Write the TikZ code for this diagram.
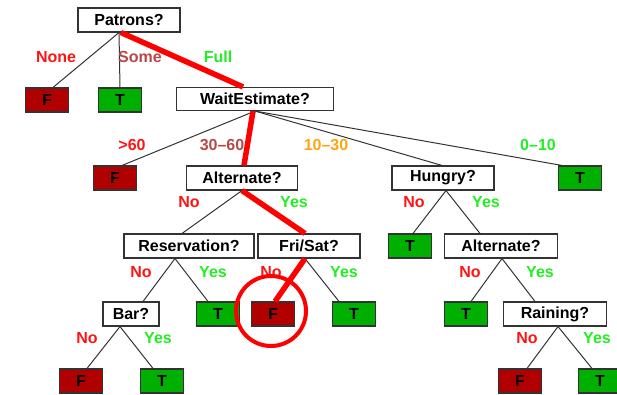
\documentclass[tikz,border=0pt]{standalone}
\usepackage{fontspec}
\setmainfont{Liberation Sans}
\usepackage{tikz}
\usetikzlibrary{positioning}
\definecolor{TreeNo}{HTML}{FF1414}
\definecolor{TreeYes}{HTML}{22EE22}
\definecolor{TreeSome}{HTML}{B84848}
\definecolor{TreeMid}{HTML}{FFA514}
\definecolor{TreeFalse}{HTML}{B00000}
\definecolor{TreeTrue}{HTML}{00B000}
\definecolor{TreeInk}{HTML}{333333}
\definecolor{TreePath}{HTML}{FF0000}

\begin{document}
\begin{tikzpicture}[x=1pt,y=-1pt,
  every node/.style={font=\fontsize{16}{18}\selectfont\bfseries},
  test/.style={draw=TreeInk,line width=1.1pt,fill=white,minimum height=24pt,inner sep=0pt},
  fleaf/.style={draw=TreeInk,line width=1.1pt,fill=TreeFalse,minimum width=43pt,minimum height=24pt,inner sep=0pt},
  tleaf/.style={draw=TreeInk,line width=1.1pt,fill=TreeTrue,minimum width=43pt,minimum height=24pt,inner sep=0pt},
  edge/.style={draw=TreeInk,line width=1pt},
  chosen/.style={draw=TreePath,line width=5.5pt},
  lno/.style={text=TreeNo},
  lyes/.style={text=TreeYes}]
  \useasboundingbox (0,0) rectangle (617,395);
  % tests and leaves
  \node[test,minimum width=102pt] (patrons) at (129,20) {Patrons?};
  \node[fleaf] (fnone) at (47,100) {F};
  \node[tleaf] (tsome) at (120,100) {T};
  \node[test,minimum width=157pt,minimum height=23pt] (wait) at (255,99) {WaitEstimate?};
  \node[fleaf] (f60) at (115,178) {F};
  \node[test,minimum width=111pt] (alt1) at (242,178) {Alternate?};
  \node[test,minimum width=102pt] (hungry) at (443,178) {Hungry?};
  \node[tleaf] (t010) at (580,178) {T};
  \node[test,minimum width=130pt] (resv) at (189,246) {Reservation?};
  \node[test,minimum width=102pt] (frisat) at (309,246) {Fri/Sat?};
  \node[tleaf] (thun) at (410,246) {T};
  \node[test,minimum width=113pt] (alt2) at (501,246) {Alternate?};
  \node[test,minimum width=56pt] (bar) at (131,314) {Bar?};
  \node[tleaf] (tres) at (218,314) {T};
  \node[fleaf] (ffri) at (273,314) {F};
  \node[tleaf] (tfri) at (354,314) {T};
  \node[tleaf] (talt) at (466,314) {T};
  \node[test,minimum width=103pt] (rain) at (555,314) {Raining?};
  \node[fleaf] (fbar) at (81,381) {F};
  \node[tleaf] (tbar) at (162,381) {T};
  \node[fleaf] (frain) at (520,381) {F};
  \node[tleaf] (train) at (600,381) {T};
  % branches
  \draw[edge] ([xshift=-10pt]patrons.south) -- ([xshift=6pt]fnone.north);
  \draw[edge] ([xshift=-10pt]patrons.south) -- (tsome.north);
  \draw[edge] ([xshift=-10pt]patrons.south) -- ([xshift=-12pt]wait.north);
  \draw[edge] (wait.south) -- ([xshift=7pt]f60.north);
  \draw[edge] (wait.south) -- ([xshift=2pt]alt1.north);
  \draw[edge] (wait.south) -- ([xshift=-1pt]hungry.north);
  \draw[edge] (wait.south) -- ([xshift=-18pt]t010.north);
  \draw[edge] (alt1.south) -- ([xshift=-7pt]resv.north);
  \draw[edge] (alt1.south) -- ([xshift=-4pt]frisat.north);
  \draw[edge] ([xshift=-14pt]resv.south) -- ([xshift=12pt]bar.north);
  \draw[edge] ([xshift=-14pt]resv.south) -- ([xshift=-10pt]tres.north);
  \draw[edge] ([xshift=-4pt]frisat.south) -- ([xshift=2pt]ffri.north);
  \draw[edge] ([xshift=-4pt]frisat.south) -- ([xshift=-15pt]tfri.north);
  \draw[edge] ([xshift=-11pt]bar.south) -- ([xshift=6pt]fbar.north);
  \draw[edge] ([xshift=-11pt]bar.south) -- ([xshift=-9pt]tbar.north);
  \draw[edge] ([xshift=3pt]hungry.south) -- ([xshift=3pt]thun.north);
  \draw[edge] ([xshift=3pt]hungry.south) -- ([xshift=-21pt]alt2.north);
  \draw[edge] ([xshift=1pt]alt2.south) -- ([xshift=5pt]talt.north);
  \draw[edge] ([xshift=1pt]alt2.south) -- ([xshift=-20pt]rain.north);
  \draw[edge] ([xshift=3pt]rain.south) -- ([xshift=7pt]frain.north);
  \draw[edge] ([xshift=3pt]rain.south) -- ([xshift=-8pt]train.north);
  % branch labels
  \node[lno] (lnone) at (56,57) {None};
  \node[text=TreeSome] (lsome) at (140,57) {Some};
  \node[lyes] (lfull) at (218,57) {Full};
  \node[lno] (lover) at (132,145) {>60};
  \node[text=TreeSome] (lthirty) at (222,145) {30--60};
  \node[text=TreeMid] (lten) at (326,145) {10--30};
  \node[lyes] (lzero) at (538,145) {0--10};
  \node[lno] (altno) at (189,202) {No};
  \node[lyes] (altyes) at (294,202) {Yes};
  \node[lno] (hunno) at (414,202) {No};
  \node[lyes] (hunyes) at (486,202) {Yes};
  \node[lno] (resno) at (141,272) {No};
  \node[lyes] (resyes) at (213,272) {Yes};
  \node[lno] (frino) at (271,272) {No};
  \node[lyes] (friyes) at (344,272) {Yes};
  \node[lno] (alttno) at (470,272) {No};
  \node[lyes] (alttyes) at (540,272) {Yes};
  \node[lno] (barno) at (87,338) {No};
  \node[lyes] (baryes) at (158,338) {Yes};
  \node[lno] (rainno) at (527,338) {No};
  \node[lyes] (rainyes) at (597,338) {Yes};
  % followed path
  \draw[chosen] ([xshift=-8pt]patrons.south) -- ([xshift=-12pt]wait.north);
  \draw[chosen] ([xshift=-2pt]wait.south) -- ([xshift=2pt]alt1.north);
  \draw[chosen] (alt1.south) -- ([xshift=-4pt]frisat.north);
  \draw[chosen] ([xshift=-4pt]frisat.south) -- ([xshift=2pt]ffri.north);
  \draw[TreePath,line width=4pt] ([xshift=-2pt,yshift=3pt]ffri.center) circle (35pt);
\end{tikzpicture}
\end{document}
